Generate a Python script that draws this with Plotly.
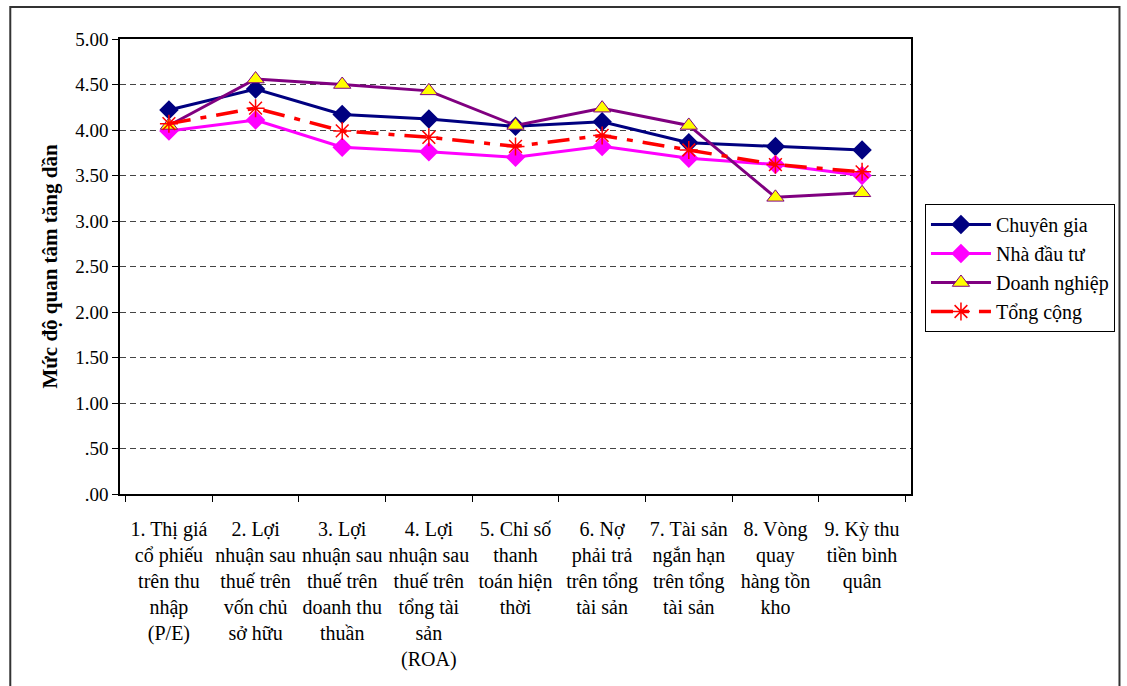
import plotly.graph_objects as go

# Categories (financial ratios) shown on the x axis
categories = [
    "1. Thị giá<br>cổ phiếu<br>trên thu<br>nhập<br>(P/E)",
    "2. Lợi<br>nhuận sau<br>thuế trên<br>vốn chủ<br>sở hữu",
    "3. Lợi<br>nhuận sau<br>thuế trên<br>doanh thu<br>thuần",
    "4. Lợi<br>nhuận sau<br>thuế trên<br>tổng tài<br>sản<br>(ROA)",
    "5. Chỉ số<br>thanh<br>toán hiện<br>thời",
    "6. Nợ<br>phải trả<br>trên tổng<br>tài sản",
    "7. Tài sản<br>ngắn hạn<br>trên tổng<br>tài sản",
    "8. Vòng<br>quay<br>hàng tồn<br>kho",
    "9. Kỳ thu<br>tiền bình<br>quân",
]

# Mean interest scores per group
chuyen_gia = [4.22, 4.45, 4.17, 4.12, 4.04, 4.09, 3.86, 3.82, 3.78]
nha_dau_tu = [3.99, 4.11, 3.81, 3.76, 3.70, 3.82, 3.69, 3.62, 3.50]
doanh_nghiep = [4.05, 4.56, 4.50, 4.43, 4.05, 4.24, 4.05, 3.26, 3.31]
tong_cong = [4.07, 4.24, 3.99, 3.92, 3.82, 3.94, 3.78, 3.62, 3.54]

# Y tick values and their labels
y_ticks = [0, 0.5, 1.0, 1.5, 2.0, 2.5, 3.0, 3.5, 4.0, 4.5, 5.0]
y_tick_text = [".00", ".50", "1.00", "1.50", "2.00", "2.50", "3.00", "3.50", "4.00", "4.50", "5.00"]

FONT = "Liberation Serif"

fig = go.Figure()

fig.add_trace(go.Scatter(
    x=categories, y=chuyen_gia, name="Chuyên gia", mode="lines+markers",
    line=dict(color="#000080", width=3),
    marker=dict(symbol="diamond", size=15, color="#000080"),
))
fig.add_trace(go.Scatter(
    x=categories, y=nha_dau_tu, name="Nhà đầu tư", mode="lines+markers",
    line=dict(color="#FF00FF", width=3),
    marker=dict(symbol="diamond", size=15, color="#FF00FF"),
))
fig.add_trace(go.Scatter(
    x=categories, y=doanh_nghiep, name="Doanh nghiệp", mode="lines+markers",
    line=dict(color="#800080", width=3),
    marker=dict(symbol="triangle-up", size=15, color="#FFFF00",
                line=dict(color="#800080", width=1)),
))
fig.add_trace(go.Scatter(
    x=categories, y=tong_cong, name="Tổng cộng", mode="lines+markers",
    line=dict(color="#FF0000", width=3.5, dash="22px,10px,6px,10px"),
    marker=dict(symbol="asterisk-open", size=15, color="#FF0000",
                line=dict(color="#FF0000", width=1.5)),
))

# plot area geometry in pixels (used for the outer frame)
W, H = 1127, 686
L, R, T, B = 120, 214, 39, 192
pw, ph = W - L - R, H - T - B

def px_x(x):
    return (x - L) / pw

def px_y(y):
    return (H - B - y) / ph

fig.add_shape(type="rect", xref="paper", yref="paper",
              x0=px_x(10), x1=px_x(1122), y0=px_y(720), y1=px_y(7),
              line=dict(color="#333333", width=2), layer="above")

fig.update_layout(
    width=W, height=H,
    margin=dict(l=L, r=R, t=T, b=B),
    paper_bgcolor="white", plot_bgcolor="white",
    font=dict(family=FONT, size=20, color="black"),
    showlegend=True,
    legend=dict(
        x=px_x(927), y=px_y(204), xanchor="left", yanchor="top",
        bordercolor="black", borderwidth=1, bgcolor="white",
        font=dict(family=FONT, size=20, color="black"),
        tracegroupgap=0, itemwidth=60,
    ),
    xaxis=dict(
        type="category", showgrid=False,
        showline=True, linecolor="black", linewidth=1.5, mirror=True,
        ticks="outside", ticklen=6, tickcolor="black", tickson="boundaries",
        tickfont=dict(family=FONT, size=20), ticklabelstandoff=16,
        tickangle=0,
    ),
    yaxis=dict(
        range=[0, 5], tickvals=y_ticks, ticktext=y_tick_text,
        showgrid=True, gridcolor="#444444", gridwidth=1, griddash="6px,4px",
        showline=True, linecolor="black", linewidth=1.5, mirror=True,
        ticks="outside", ticklen=6, tickcolor="black",
        tickfont=dict(family=FONT, size=19), zeroline=False,
        title=dict(text="<b>Mức độ quan tâm tăng dần</b>",
                   font=dict(family=FONT, size=21), standoff=12),
    ),
)

fig.write_html("out.html")
